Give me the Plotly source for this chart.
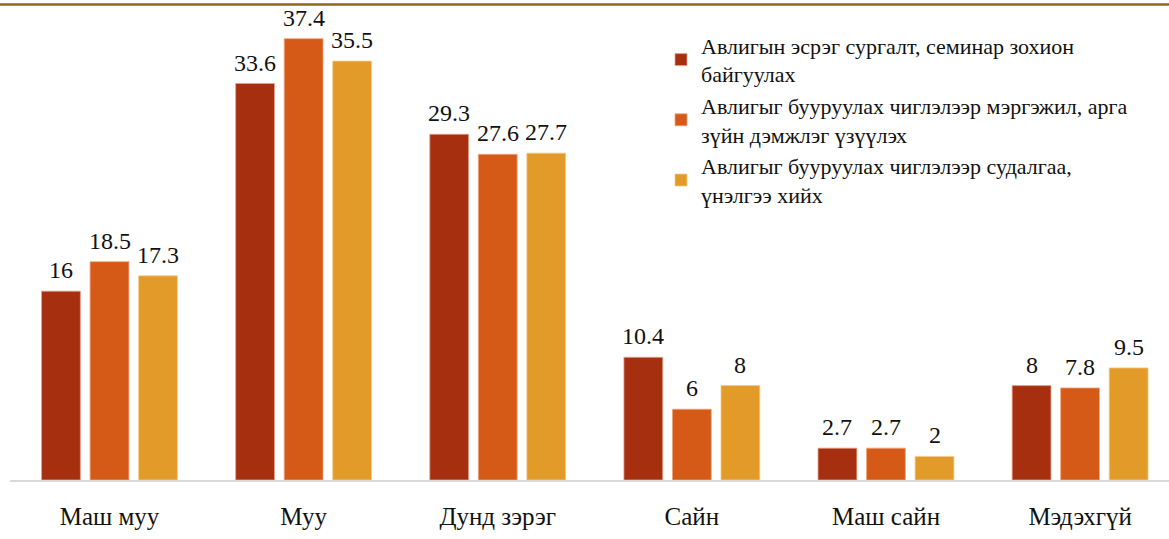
import plotly.graph_objects as go

categories = ["Маш муу", "Муу", "Дунд зэрэг", "Сайн", "Маш сайн", "Мэдэхгүй"]
series_names = [
    "Авлигын эсрэг сургалт, семинар зохион<br>байгуулах",
    "Авлигыг бууруулах чиглэлээр мэргэжил, арга<br>зүйн дэмжлэг үзүүлэх",
    "Авлигыг бууруулах чиглэлээр судалгаа,<br>үнэлгээ хийх",
]
s1 = [16, 33.6, 29.3, 10.4, 2.7, 8]
s2 = [18.5, 37.4, 27.6, 6, 2.7, 7.8]
s3 = [17.3, 35.5, 27.7, 8, 2, 9.5]
values = [s1, s2, s3]
colors = ["#A52F0F", "#D55A17", "#E29A28"]
outlines = ["#E8A08C", "#F0A47C", "#F3CC8C"]

FONT = "Liberation Serif"
BARGAP = 0.25
GROUPGAP = 0.2
slot = (1 - BARGAP) / 3

xs = list(range(len(categories)))
fig = go.Figure()
for j, (name, vals) in enumerate(zip(series_names, values)):
    fig.add_trace(go.Bar(
        x=xs, y=vals, name=name,
        marker=dict(color=colors[j], line=dict(color=outlines[j], width=0.8)),
    ))
    for i, v in enumerate(vals):
        fig.add_annotation(
            x=i + (j - 1) * slot, y=v, text=f"{v:g}", showarrow=False,
            yanchor="bottom", yshift=6, xref="x", yref="y",
            font=dict(family=FONT, size=24, color="#111111"),
        )

fig.add_shape(type="line", xref="paper", yref="paper", x0=-0.02, x1=1.0,
              y0=1.0074, y1=1.0074, line=dict(color="#8C6A14", width=2.5))

fig.update_layout(
    width=1169, height=539,
    margin=dict(l=10, r=0, t=8, b=59),
    barmode="group", bargap=BARGAP, bargroupgap=GROUPGAP,
    plot_bgcolor="white", paper_bgcolor="white",
    font=dict(family=FONT, color="#111111"),
    xaxis=dict(
        tickmode="array", tickvals=xs, ticktext=categories,
        range=[-0.5126, 5.458], showgrid=False, zeroline=False,
        showline=True, linecolor="#D9D9D9", linewidth=1.5,
        ticks="", ticklabelstandoff=13,
        tickfont=dict(family=FONT, size=25, color="#111111"),
    ),
    yaxis=dict(range=[0, 40], visible=False),
    legend=dict(
        x=0.5617, y=0.965, xanchor="left", yanchor="top",
        font=dict(family=FONT, size=22, color="#111111"),
        bgcolor="rgba(0,0,0,0)",
    ),
    showlegend=True,
)

fig.write_html("out.html", config={"displayModeBar": False},
               post_script="document.body.style.margin='0';document.body.style.overflow='hidden';")
